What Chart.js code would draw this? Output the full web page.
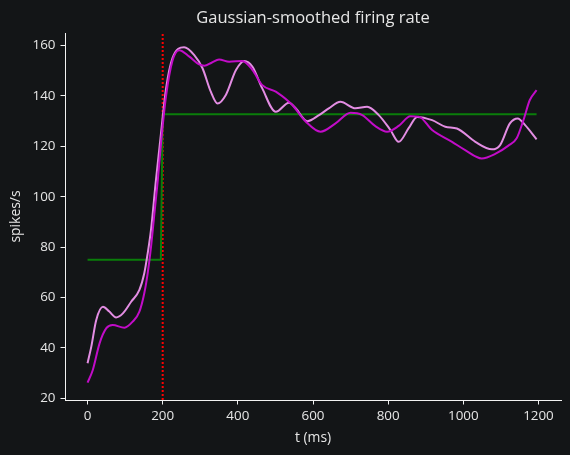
<!DOCTYPE html>
<html>
<head>
<meta charset="utf-8">
<script src="https://cdn.jsdelivr.net/npm/chart.js@4/dist/chart.umd.min.js"></script>
<style>
    html, body { margin: 0; padding: 0; background: #131517; }
    #wrap { width: 570px; height: 455px; }
</style>
</head>
<body>
<div id="wrap"><canvas id="rate"></canvas></div>
<script>
// smoothed rate, first kernel (dark magenta)
const tA = [0, 14, 32, 50, 67, 98, 120, 138, 151, 160, 169, 178, 187, 196, 209, 226, 244, 271, 297, 311, 330, 350, 377, 412, 439, 465, 501, 536, 545, 581, 620, 660, 700, 731, 766, 797, 828, 859, 881, 917, 970, 1005, 1049, 1085, 1120, 1142, 1160, 1177, 1195];
const rateA = [26.2, 31.2, 41.8, 47.8, 49.1, 48, 50.4, 54.4, 61.7, 69.6, 80.2, 93.4, 106.6, 122, 140, 154, 158.2, 155.6, 152.5, 152, 153.2, 154.5, 153.6, 153.9, 150.3, 144.3, 141.7, 137.7, 136.4, 129.8, 125.8, 129.1, 133.3, 132.4, 128, 125.8, 128.1, 131.9, 131.8, 126.5, 121.8, 118.5, 115.2, 117, 120.3, 123.2, 130.4, 138.4, 142.3];

// smoothed rate, second kernel (light violet)
const tB = [0, 10, 23, 41, 58, 76, 94, 116, 138, 151, 160, 169, 182, 196, 209, 226, 257, 284, 306, 328, 346, 368, 395, 417, 439, 465, 501, 536, 554, 585, 616, 642, 673, 713, 744, 775, 806, 828, 855, 877, 917, 952, 983, 1032, 1076, 1098, 1124, 1145, 1164, 1195];
const rateB = [33.9, 40.5, 51, 56.3, 54.4, 52.1, 53.7, 58.3, 63, 69.6, 77.5, 87, 106.6, 126, 143, 155, 159.3, 156.2, 151, 141.7, 137, 140.4, 150.3, 153.9, 151.6, 143, 133.7, 137.3, 135.1, 130, 132.4, 135.1, 137.7, 135.1, 135.7, 132.4, 126.5, 121.8, 127.3, 131.7, 130.4, 127.8, 127.1, 121.8, 118.8, 120.5, 129.1, 131.1, 128.5, 122.8];

// true rate (step)
const tTrue = [0, 195, 200, 1195];
const rateTrue = [75, 75, 132.7, 132.7];

const onsetT = 200;
const xTicks = [0, 200, 400, 600, 800, 1000, 1200];
const yTicks = [20, 40, 60, 80, 100, 120, 140, 160];
const xMin = -60, xMax = 1260;
const yMin = 19.3, yMax = 165;

const titleText = "Gaussian-smoothed firing rate";
const txt = "#e6e6e6";
const axisCol = "#f2f2f2";
const fam = "Open Sans";

function pts(ts, vs) {
    return ts.map((t, i) => ({ x: t, y: vs[i] }));
}

// dark background + title centred over the axes (like matplotlib)
const decor = {
    id: "decor",
    beforeDraw(chart) {
        const ctx = chart.ctx;
        ctx.save();
        ctx.fillStyle = "#131517";
        ctx.fillRect(0, 0, chart.width, chart.height);
        ctx.restore();
    },
    afterDraw(chart) {
        const ctx = chart.ctx;
        const a = chart.chartArea;
        ctx.save();
        ctx.fillStyle = txt;
        ctx.font = "16.5px '" + fam + "'";
        ctx.textAlign = "center";
        ctx.textBaseline = "alphabetic";
        ctx.fillText(titleText, (a.left + a.right) / 2, 23);
        ctx.restore();
    }
};

new Chart(document.getElementById("rate"), {
    type: "line",
    data: {
        datasets: [
            {
                data: pts(tA, rateA),
                borderColor: "#c20cc8",
                borderWidth: 2,
                pointRadius: 0,
                cubicInterpolationMode: "monotone"
            },
            {
                data: pts(tB, rateB),
                borderColor: "#e38de3",
                borderWidth: 2,
                pointRadius: 0,
                cubicInterpolationMode: "monotone"
            },
            {
                data: pts(tTrue, rateTrue),
                borderColor: "#0a7d0a",
                borderWidth: 2,
                pointRadius: 0,
                tension: 0
            },
            {
                data: [{ x: onsetT, y: yMin }, { x: onsetT, y: yMax }],
                borderColor: "#ff0000",
                borderWidth: 2,
                borderDash: [2, 2],
                pointRadius: 0,
                tension: 0
            }
        ]
    },
    options: {
        responsive: true,
        maintainAspectRatio: false,
        animation: false,
        layout: { padding: { left: 0, right: 9, top: 33, bottom: 0 } },
        plugins: {
            legend: { display: false },
            tooltip: { enabled: false },
            title: { display: false }
        },
        scales: {
            x: {
                type: "linear",
                min: xMin,
                max: xMax,
                afterBuildTicks: s => { s.ticks = xTicks.map(v => ({ value: v })); },
                afterFit: s => { s.height = 55; },
                grid: { drawOnChartArea: false, drawTicks: true, tickLength: 4.5, color: axisCol },
                border: { display: true, color: axisCol, width: 1 },
                ticks: {
                    color: txt,
                    padding: 4,
                    maxRotation: 0,
                    font: { family: fam, size: 13.4 },
                    callback: v => String(v)
                },
                title: {
                    display: true,
                    text: "t (ms)",
                    color: txt,
                    font: { family: fam, size: 13.9 },
                    padding: { top: 0, bottom: 9 }
                }
            },
            y: {
                min: yMin,
                max: yMax,
                afterBuildTicks: s => { s.ticks = yTicks.map(v => ({ value: v })); },
                afterFit: s => { s.width = 65; },
                grid: { drawOnChartArea: false, drawTicks: true, tickLength: 4.5, color: axisCol },
                border: { display: true, color: axisCol, width: 1 },
                ticks: { color: txt, padding: 5, font: { family: fam, size: 13.4 } },
                title: {
                    display: true,
                    text: "spikes/s",
                    color: txt,
                    font: { family: fam, size: 13.9 },
                    padding: { top: 8, bottom: 0 }
                }
            }
        }
    },
    plugins: [decor]
});
</script>
</body>
</html>
